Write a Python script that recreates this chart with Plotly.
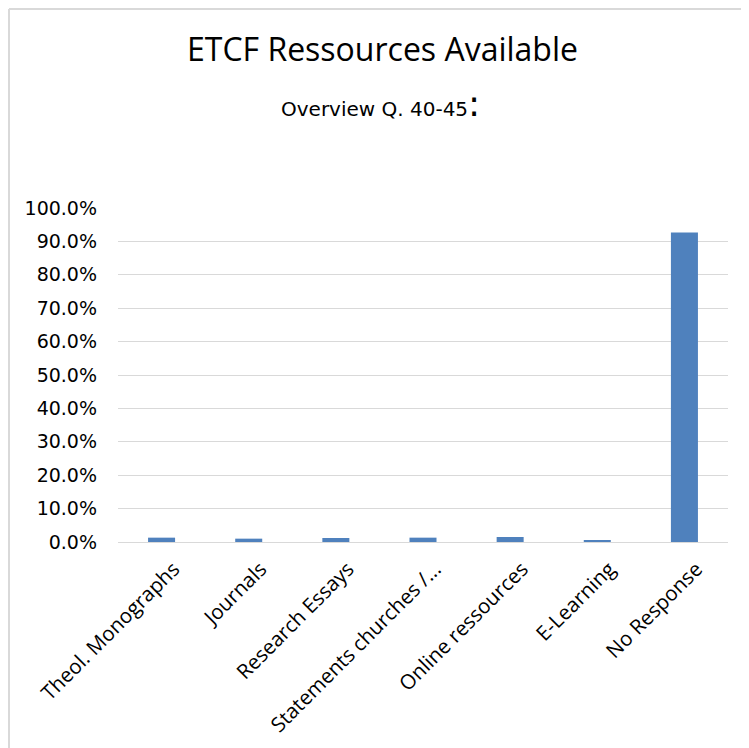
import plotly.graph_objects as go

categories = ["Theol. Monographs", "Journals", "Research Essays", "Statements churches /...",
              "Online ressources", "E-Learning", "No Response"]
values = [0.013, 0.010, 0.012, 0.013, 0.015, 0.004, 0.927]
y_ticks = [i / 10 for i in range(11)]

W, H = 749, 748
OFF = 8  # page body margin
# desired plot area in page coordinates
PX0, PX1, PY0, PY1 = 118, 728, 208, 542
L = PX0 - OFF
T = PY0 - OFF
R = W - (PX1 - OFF)
B = H - (PY1 - OFF)
PW = W - L - R
PH = H - T - B


def px(x):
    return (x - PX0) / PW


def py(y):
    return (PY1 - y) / PH


fig = go.Figure(go.Bar(x=categories, y=values, marker=dict(color="#4f81bd", line=dict(width=0))))

fig.update_layout(
    width=W, height=H,
    margin=dict(l=L, r=R, t=T, b=B, autoexpand=False),
    paper_bgcolor="white", plot_bgcolor="white",
    bargap=0.69,
    showlegend=False,
    xaxis=dict(tickangle=-45, tickfont=dict(family="Open Sans, sans-serif", size=20.5, color="#000"),
               showline=True, linecolor="#d9d9d9", linewidth=1, ticks="", showgrid=False,
               ticklabelshift=12, ticklabelstandoff=6, automargin=False),
    yaxis=dict(range=[0, 1.0], tickvals=y_ticks, tickformat=".1%",
               tickfont=dict(family="DejaVu Sans, sans-serif", size=19, color="#000"),
               showgrid=True, gridcolor="#d9d9d9", gridwidth=1, zeroline=False, showline=False,
               ticks="", ticklen=0, ticklabelstandoff=20, automargin=False),
    annotations=[
        dict(text="ETCF Ressources Available", xref="paper", yref="paper",
             x=px(382), y=py(48), xanchor="center", yanchor="middle",
             showarrow=False, font=dict(family="Open Sans, sans-serif", size=32, color="#000")),
        dict(text="Overview Q. 40-45<span style='font-size:36px'>:</span>", xref="paper", yref="paper",
             x=px(380), y=py(103), xanchor="center", yanchor="middle",
             showarrow=False, font=dict(family="DejaVu Sans, sans-serif", size=20, color="#000")),
    ],
    shapes=[
        dict(type="line", xref="paper", yref="paper", x0=px(9), x1=px(749), y0=py(9), y1=py(9),
             line=dict(color="#d9d9d9", width=2)),
        dict(type="line", xref="paper", yref="paper", x0=px(9), x1=px(9), y0=py(9), y1=py(760),
             line=dict(color="#d9d9d9", width=2)),
    ],
)

fig.write_html("out.html")
